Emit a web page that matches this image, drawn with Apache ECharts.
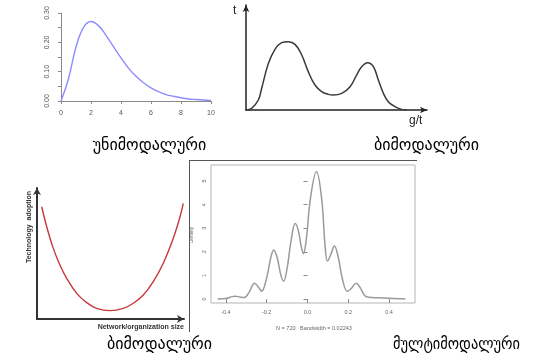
<!DOCTYPE html>
<html><head><meta charset="utf-8">
<script src="https://cdn.jsdelivr.net/npm/echarts@6/dist/echarts.min.js"></script>
<style>html,body{margin:0;padding:0;background:#fff}#c{width:533px;height:364px}</style>
</head><body><div id="c"></div>
<script>
// Panel 1: unimodal density
var uniX = [0,0.5,1,1.5,2,2.5,3,3.5,4,4.5,5,5.5,6,6.5,7,7.5,8,8.5,9,9.5,10];
var uniY = [0,0.076,0.184,0.251,0.271,0.257,0.224,0.185,0.147,0.112,0.084,0.062,0.045,0.032,0.022,0.016,0.011,0.007,0.005,0.0034,0.0023];
var uniXTicks = [0,2,4,6,8,10];
var uniYTicks = [0,0.05,0.10,0.15,0.20,0.25,0.30];
var uniYLabels = ['0.00','','0.10','','0.20','','0.30'];

// Panel 2: bimodal sketch
var biX = [0,0.31,0.68,0.87,1.23,1.60,1.97,2.34,2.71,3.08,3.44,3.81,4.18,4.55,4.82,5.29,5.75,6.11,6.39,6.72,7.04,7.31,7.59,7.86,8.23,8.60,8.88];
var biY = [0,0.016,0.095,0.21,0.44,0.578,0.641,0.651,0.625,0.524,0.365,0.238,0.175,0.149,0.143,0.159,0.222,0.333,0.413,0.451,0.413,0.286,0.159,0.079,0.032,0.006,0];

// Panel 3: U-shaped curve
var uX = [0.32,0.66,1.11,1.56,2.02,2.70,3.38,4.06,4.97,5.87,6.55,7.23,7.91,8.59,9.27,9.73,9.95];
var uY = [0.857,0.705,0.539,0.412,0.310,0.196,0.125,0.081,0.064,0.081,0.120,0.183,0.285,0.425,0.616,0.781,0.883];

// Panel 4: multimodal density
var multiX = [-0.44,-0.40,-0.37,-0.355,-0.33,-0.31,-0.285,-0.26,-0.24,-0.225,-0.20,-0.18,-0.166,-0.15,-0.13,-0.117,-0.10,-0.08,-0.06,-0.045,-0.03,-0.02,-0.005,0.015,0.044,0.07,0.085,0.098,0.115,0.132,0.15,0.17,0.195,0.215,0.239,0.26,0.28,0.30,0.35,0.40,0.45,0.48];
var multiY = [0.0,0.02,0.10,0.12,0.08,0.06,0.3,0.67,0.5,0.33,0.9,1.75,2.08,1.8,1.0,0.75,1.3,2.5,3.2,2.9,2.2,1.92,2.6,4.3,5.4,4.2,2.4,1.6,1.9,2.25,1.8,0.9,0.33,0.45,0.67,0.45,0.15,0.07,0.05,0.03,0.01,0.0];
var multiXTicks = [-0.4,-0.2,0.0,0.2,0.4];
var multiXLabels = ['-0.4','-0.2','0.0','0.2','0.4'];
var multiYTicks = [0,1,2,3,4,5];

var captions = ['უნიმოდალური','ბიმოდალური','ბიმოდალური','მულტიმოდალური'];

function pairs(xs, ys){ return xs.map(function(x,i){ return [x, ys[i]]; }); }

var chart = echarts.init(document.getElementById('c'), null, {renderer:'canvas'});
var rFont = 'Liberation Sans, Arial, sans-serif';
var capFont = '16px "DejaVu Sans"';
var opt = {
  backgroundColor:'#fff',
  animation:false,
  grid:[
    {left:61, top:13, width:150, height:88},
    {left:246, top:5, width:181, height:105},
    {left:37, top:188, width:147, height:131},
    {left:211, top:165, width:204, height:138, show:true, borderColor:'#b5b5b5', borderWidth:1}
  ],
  xAxis:[
    {gridIndex:0, type:'value', min:0, max:10, interval:2, offset:4,
     axisLine:{show:true, lineStyle:{color:'#8a8a8a'}}, axisTick:{show:true, length:3, lineStyle:{color:'#8a8a8a'}},
     axisLabel:{fontSize:7, color:'#555', margin:5, fontFamily:rFont}, splitLine:{show:false}},
    {gridIndex:1, type:'value', min:0, max:10,
     axisLine:{show:true, symbol:['none','arrow'], symbolSize:[5,7], lineStyle:{color:'#222', width:1.5}},
     axisTick:{show:false}, axisLabel:{show:false}, splitLine:{show:false}},
    {gridIndex:2, type:'value', min:0, max:10,
     axisLine:{show:true, symbol:['none','arrow'], symbolSize:[6,7], lineStyle:{color:'#333', width:2}},
     axisTick:{show:false}, axisLabel:{show:false}, splitLine:{show:false}},
    {gridIndex:3, type:'value', min:-0.473, max:0.527,
     axisLine:{show:false}, axisTick:{show:true, length:4, customValues:multiXTicks, lineStyle:{color:'#888'}},
     axisLabel:{show:true, fontSize:5.5, color:'#666', margin:6, fontFamily:rFont, customValues:multiXTicks,
       formatter:function(v){ var i = multiXTicks.findIndex(function(t){return Math.abs(t-v)<1e-6;}); return i>=0?multiXLabels[i]:''; }},
     splitLine:{show:false}}
  ],
  yAxis:[
    {gridIndex:0, type:'value', min:0, max:0.30, interval:0.05, offset:6,
     axisLine:{show:true, lineStyle:{color:'#8a8a8a'}}, axisTick:{show:true, length:3, lineStyle:{color:'#8a8a8a'}},
     axisLabel:{fontSize:7, color:'#555', margin:4, rotate:90, fontFamily:rFont,
       formatter:function(v){ var i = uniYTicks.findIndex(function(t){return Math.abs(t-v)<1e-6;}); return i>=0?uniYLabels[i]:''; }},
     splitLine:{show:false}},
    {gridIndex:1, type:'value', min:0, max:1,
     axisLine:{show:true, symbol:['none','arrow'], symbolSize:[5,7], lineStyle:{color:'#222', width:1.5}},
     axisTick:{show:false}, axisLabel:{show:false}, splitLine:{show:false}},
    {gridIndex:2, type:'value', min:0, max:1,
     axisLine:{show:true, symbol:['none','arrow'], symbolSize:[6,7], lineStyle:{color:'#333', width:2}},
     axisTick:{show:false}, axisLabel:{show:false}, splitLine:{show:false}},
    {gridIndex:3, type:'value', min:-0.17, max:5.68,
     axisLine:{show:false}, axisTick:{show:true, length:4, customValues:multiYTicks, lineStyle:{color:'#888'}},
     axisLabel:{show:true, fontSize:5.5, color:'#666', margin:4, rotate:90, fontFamily:rFont, customValues:multiYTicks},
     splitLine:{show:false}}
  ],
  series:[
    {type:'line', xAxisIndex:0, yAxisIndex:0, data:pairs(uniX,uniY), smooth:0.4, showSymbol:false,
     lineStyle:{color:'#8c8cff', width:1.4}},
    {type:'line', xAxisIndex:1, yAxisIndex:1, data:pairs(biX,biY), smooth:0.4, showSymbol:false,
     lineStyle:{color:'#3a3a3a', width:1.5}},
    {type:'line', xAxisIndex:2, yAxisIndex:2, data:pairs(uX,uY), smooth:0.4, showSymbol:false,
     lineStyle:{color:'#c8383a', width:1.4}},
    {type:'line', xAxisIndex:3, yAxisIndex:3, data:pairs(multiX,multiY), smooth:0.4, showSymbol:false,
     lineStyle:{color:'#9a9a9a', width:1.5}}
  ],
  graphic:[
    {type:'text', x:149.5, y:146, style:{text:captions[0], font:capFont, fill:'#000', align:'center', verticalAlign:'middle'}},
    {type:'text', x:426.5, y:146, style:{text:captions[1], font:capFont, fill:'#000', align:'center', verticalAlign:'middle'}},
    {type:'text', x:159.5, y:345, style:{text:captions[2], font:capFont, fill:'#000', align:'center', verticalAlign:'middle'}},
    {type:'text', x:456.5, y:345, scaleX:0.9, style:{text:captions[3], font:capFont, fill:'#000', align:'center', verticalAlign:'middle'}},
    {type:'text', left:233, top:5, style:{text:'t', font:'12px "Liberation Sans"', fill:'#222'}},
    {type:'text', left:409, top:115, style:{text:'g/t', font:'12px "Liberation Sans"', fill:'#222'}},
    {type:'text', x:29, y:227, rotation:Math.PI/2, style:{text:'Technology  adoption', font:'bold 7px "Liberation Sans"', fill:'#333', align:'center', verticalAlign:'middle'}},
    {type:'text', x:184, y:327, style:{text:'Network/organization size', font:'bold 7px "Liberation Sans"', fill:'#333', align:'right', verticalAlign:'middle'}},
    {type:'line', shape:{x1:189, y1:160.5, x2:417, y2:160.5}, style:{stroke:'#555', lineWidth:1}},
    {type:'line', shape:{x1:189.5, y1:160, x2:189.5, y2:332}, style:{stroke:'#555', lineWidth:1}},
    {type:'text', x:192, y:235, rotation:Math.PI/2, style:{text:'Density', font:'5px "Liberation Sans"', fill:'#666', align:'center', verticalAlign:'middle'}},
    {type:'text', x:314, y:328, style:{text:'N = 720   Bandwidth = 0.02243', font:'5.5px "Liberation Sans"', fill:'#666', align:'center', verticalAlign:'middle'}}
  ]
};
chart.setOption(opt);
</script></body></html>
